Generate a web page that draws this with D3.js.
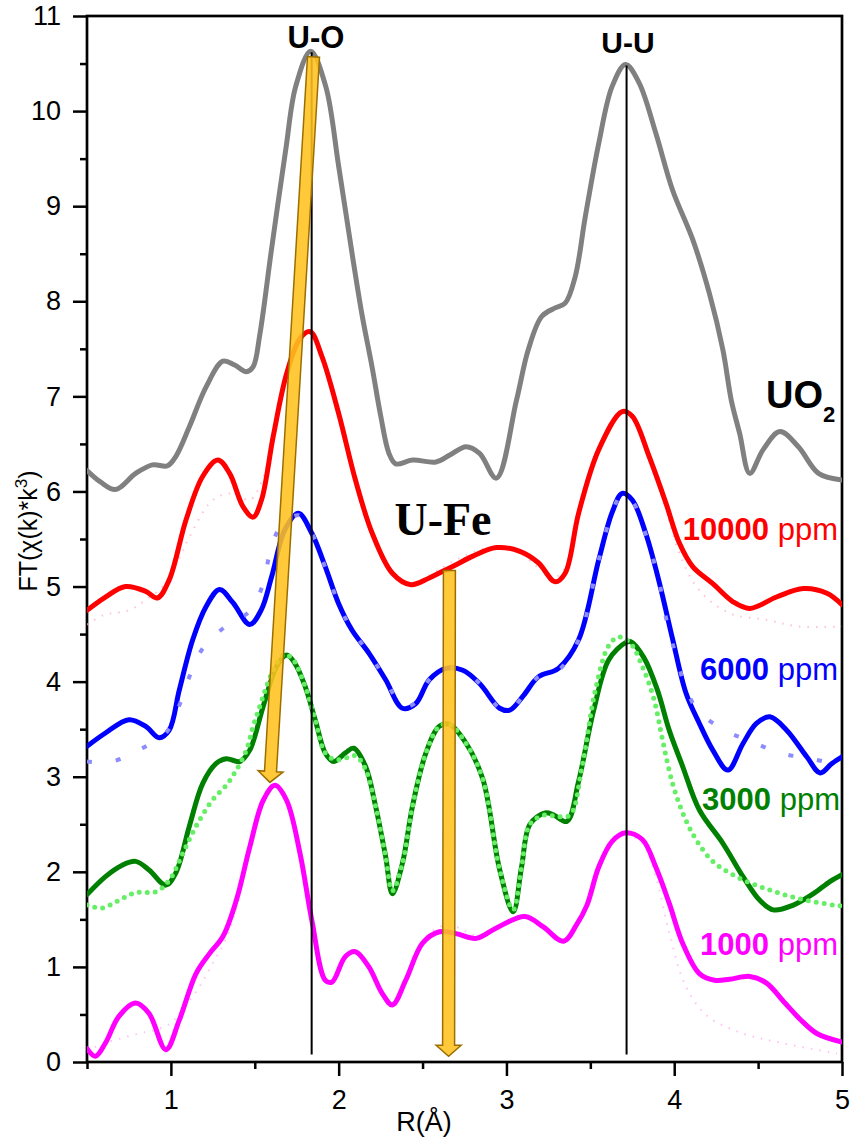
<!DOCTYPE html>
<html>
<head>
<meta charset="utf-8">
<script src="https://cdn.jsdelivr.net/npm/d3@7"></script>
<style>
body { margin: 0; background: #fff; }
svg text { font-family: "Liberation Sans", Arial, sans-serif; }
</style>
</head>
<body>
<div id="chart"></div>
<script>
// [R (Å), FT magnitude]
var uo2 = [[0.5,6.22],[0.58,6.1],[0.67,6.02],[0.79,6.19],[0.89,6.28],[0.98,6.27],[1.03,6.37],[1.11,6.68],[1.21,7.1],[1.31,7.37],[1.38,7.33],[1.45,7.26],[1.49,7.31],[1.53,7.65],[1.6,8.55],[1.685,9.6],[1.744,10.26],[1.833,10.63],[1.923,10.26],[2.0,9.42],[2.08,8.5],[2.14,7.85],[2.2,7.3],[2.25,6.8],[2.3,6.4],[2.34,6.29],[2.44,6.33],[2.58,6.31],[2.66,6.38],[2.76,6.47],[2.84,6.4],[2.94,6.14],[3.06,6.96],[3.13,7.49],[3.21,7.84],[3.29,7.93],[3.35,7.98],[3.41,8.26],[3.47,8.89],[3.55,9.66],[3.63,10.26],[3.71,10.49],[3.79,10.3],[3.89,9.77],[3.99,9.17],[4.11,8.65],[4.21,8.08],[4.29,7.49],[4.34,6.96],[4.39,6.61],[4.45,6.19],[4.53,6.44],[4.63,6.63],[4.74,6.47],[4.86,6.19],[5.0,6.12]];

var ppm10000 = [[0.5,4.75],[0.61,4.89],[0.73,5.0],[0.85,4.95],[0.92,4.88],[0.99,5.07],[1.09,5.7],[1.19,6.16],[1.28,6.33],[1.35,6.19],[1.43,5.84],[1.49,5.73],[1.54,5.91],[1.61,6.58],[1.69,7.24],[1.77,7.61],[1.83,7.68],[1.9,7.42],[2.0,6.82],[2.1,6.12],[2.2,5.56],[2.32,5.14],[2.43,5.02],[2.54,5.09],[2.62,5.16],[2.7,5.23],[2.8,5.32],[2.94,5.41],[3.08,5.37],[3.19,5.25],[3.29,5.05],[3.35,5.14],[3.43,5.77],[3.55,6.44],[3.69,6.84],[3.75,6.79],[3.85,6.37],[3.95,5.88],[4.03,5.46],[4.11,5.21],[4.23,5.03],[4.35,4.84],[4.45,4.77],[4.61,4.89],[4.77,4.98],[4.91,4.93],[5.0,4.81]];
var fit10000 = [[0.5,4.6],[0.6,4.7],[0.75,4.75],[0.85,4.86],[0.95,5.0],[1.05,5.3],[1.11,5.52],[1.25,5.91],[1.37,5.98],[1.47,5.91],[1.54,6.1],[1.61,6.58],[1.69,7.24],[1.77,7.6],[1.83,7.66],[1.9,7.42],[2.0,6.82],[2.1,6.12],[2.2,5.56],[2.32,5.14],[2.43,5.03],[2.54,5.12],[2.62,5.2],[2.7,5.28],[2.8,5.36],[2.94,5.42],[3.08,5.35],[3.19,5.2],[3.29,5.1],[3.35,5.2],[3.43,5.77],[3.55,6.44],[3.69,6.82],[3.75,6.77],[3.85,6.35],[3.95,5.82],[4.03,5.35],[4.15,4.96],[4.33,4.72],[4.55,4.65],[4.74,4.58],[5.0,4.58]];

var ppm6000 = [[0.5,3.32],[0.61,3.46],[0.75,3.6],[0.85,3.53],[0.93,3.41],[0.99,3.49],[1.05,3.91],[1.13,4.44],[1.21,4.79],[1.29,4.97],[1.37,4.83],[1.47,4.6],[1.54,4.76],[1.6,5.1],[1.68,5.6],[1.76,5.77],[1.84,5.56],[1.92,5.21],[2.0,4.82],[2.08,4.54],[2.18,4.3],[2.28,4.02],[2.38,3.72],[2.46,3.77],[2.54,4.02],[2.64,4.14],[2.74,4.12],[2.84,3.98],[2.96,3.72],[3.02,3.7],[3.1,3.85],[3.19,4.05],[3.31,4.14],[3.43,4.44],[3.55,5.28],[3.63,5.78],[3.69,5.98],[3.75,5.91],[3.83,5.56],[3.91,5.05],[3.99,4.45],[4.07,3.88],[4.15,3.56],[4.23,3.28],[4.32,3.07],[4.41,3.35],[4.49,3.56],[4.57,3.63],[4.67,3.49],[4.79,3.21],[4.87,3.04],[4.94,3.14],[5.0,3.21]];
var fit6000 = [[0.5,3.16],[0.65,3.16],[0.83,3.3],[0.97,3.46],[1.05,3.75],[1.11,4.05],[1.19,4.35],[1.34,4.6],[1.47,4.74],[1.55,5.03],[1.59,5.35],[1.65,5.62],[1.76,5.75],[1.84,5.56],[1.92,5.2],[2.0,4.82],[2.08,4.54],[2.18,4.3],[2.28,4.02],[2.38,3.74],[2.46,3.78],[2.54,4.02],[2.64,4.14],[2.74,4.12],[2.84,3.98],[2.96,3.72],[3.02,3.7],[3.1,3.85],[3.19,4.05],[3.31,4.12],[3.43,4.44],[3.55,5.28],[3.63,5.78],[3.69,5.97],[3.75,5.9],[3.83,5.55],[3.91,5.05],[3.96,4.6],[4.01,4.28],[4.06,3.98],[4.14,3.7],[4.3,3.49],[4.46,3.37],[4.63,3.25],[4.81,3.19],[5.0,3.12]];

var ppm3000 = [[0.5,1.76],[0.61,1.95],[0.71,2.07],[0.79,2.11],[0.87,2.02],[0.97,1.86],[1.03,1.99],[1.11,2.48],[1.19,2.93],[1.27,3.14],[1.33,3.19],[1.41,3.16],[1.47,3.28],[1.55,3.74],[1.63,4.16],[1.69,4.28],[1.74,4.19],[1.8,3.95],[1.86,3.6],[1.92,3.25],[1.97,3.16],[2.04,3.25],[2.09,3.3],[2.16,3.11],[2.22,2.69],[2.28,2.16],[2.32,1.77],[2.38,2.09],[2.44,2.69],[2.52,3.25],[2.6,3.53],[2.66,3.55],[2.76,3.35],[2.86,2.97],[2.96,2.02],[3.04,1.58],[3.09,2.05],[3.14,2.5],[3.23,2.62],[3.28,2.6],[3.36,2.53],[3.43,2.95],[3.52,3.7],[3.61,4.23],[3.71,4.41],[3.74,4.42],[3.82,4.25],[3.9,3.91],[3.97,3.49],[4.05,3.11],[4.15,2.65],[4.29,2.3],[4.41,1.95],[4.51,1.7],[4.59,1.6],[4.71,1.65],[4.83,1.77],[4.93,1.9],[5.0,1.97]];
var fit3000 = [[0.5,1.65],[0.59,1.62],[0.69,1.7],[0.79,1.78],[0.91,1.79],[0.99,1.91],[1.07,2.19],[1.15,2.48],[1.25,2.76],[1.33,2.91],[1.39,3.07],[1.45,3.28],[1.49,3.53],[1.53,3.74],[1.57,3.95],[1.61,4.12],[1.67,4.28],[1.72,4.25],[1.8,3.95],[1.86,3.6],[1.92,3.25],[1.98,3.18],[2.05,3.2],[2.1,3.22],[2.16,3.08],[2.22,2.69],[2.28,2.16],[2.32,1.8],[2.38,2.09],[2.44,2.69],[2.52,3.25],[2.6,3.53],[2.66,3.55],[2.76,3.35],[2.86,2.97],[2.96,2.02],[3.04,1.6],[3.09,2.05],[3.14,2.5],[3.23,2.6],[3.3,2.58],[3.38,2.6],[3.45,3.1],[3.53,3.91],[3.61,4.38],[3.67,4.47],[3.74,4.4],[3.81,4.16],[3.88,3.81],[3.93,3.39],[3.99,2.93],[4.06,2.58],[4.13,2.34],[4.23,2.11],[4.37,1.95],[4.55,1.82],[4.74,1.72],[4.95,1.65],[5.0,1.64]];

var ppm1000 = [[0.5,0.14],[0.55,0.06],[0.61,0.2],[0.69,0.48],[0.79,0.62],[0.87,0.51],[0.97,0.13],[1.05,0.44],[1.15,0.93],[1.23,1.14],[1.31,1.32],[1.39,1.7],[1.47,2.26],[1.55,2.75],[1.62,2.91],[1.69,2.75],[1.77,2.19],[1.84,1.49],[1.92,0.86],[1.96,0.84],[2.04,1.11],[2.1,1.16],[2.18,1.0],[2.26,0.72],[2.32,0.6],[2.4,0.86],[2.5,1.25],[2.6,1.37],[2.7,1.35],[2.82,1.3],[2.94,1.41],[3.11,1.53],[3.22,1.42],[3.34,1.27],[3.42,1.45],[3.48,1.65],[3.55,2.05],[3.63,2.32],[3.71,2.41],[3.81,2.34],[3.89,2.05],[3.97,1.67],[4.05,1.25],[4.15,0.93],[4.24,0.86],[4.33,0.87],[4.45,0.9],[4.55,0.83],[4.66,0.62],[4.75,0.45],[4.85,0.3],[5.0,0.21]];
var fit1000 = [[0.5,0.12],[0.61,0.2],[0.81,0.3],[0.91,0.34],[1.0,0.41],[1.08,0.58],[1.17,0.79],[1.25,1.04],[1.33,1.3],[1.4,1.68],[1.47,2.24],[1.55,2.73],[1.62,2.89],[1.69,2.73],[1.77,2.17],[1.84,1.47],[1.92,0.86],[1.97,0.84],[2.04,1.1],[2.1,1.15],[2.18,0.98],[2.26,0.7],[2.33,0.58],[2.4,0.84],[2.5,1.27],[2.6,1.42],[2.7,1.42],[2.82,1.33],[2.94,1.41],[3.11,1.52],[3.22,1.42],[3.34,1.28],[3.42,1.44],[3.48,1.63],[3.55,2.03],[3.63,2.3],[3.71,2.39],[3.81,2.3],[3.89,1.95],[3.97,1.36],[4.07,0.79],[4.2,0.48],[4.41,0.3],[4.64,0.2],[4.97,0.09]];

var xMajor = [1, 2, 3, 4, 5];
var xMinor = [0.5, 1.5, 2.5, 3.5, 4.5];
var yMajor = [0, 1, 2, 3, 4, 5, 6, 7, 8, 9, 10, 11];
var yMinor = [0.5, 1.5, 2.5, 3.5, 4.5, 5.5, 6.5, 7.5, 8.5, 9.5, 10.5];

// peak markers [R, top] and arrows [[R0, y0], [R1, y1]]
var peakLines = [[1.839, 10.62], [3.716, 10.48]];
var arrows = [[[1.85, 10.57], [1.59, 2.94]], [[2.66, 5.17], [2.655, 0.06]]];

var margin = { top: 16, right: 8, bottom: 75, left: 87 };
var width = 850 - margin.left - margin.right;
var height = 1137 - margin.top - margin.bottom;

var root = d3.select("#chart").append("svg")
    .attr("width", 850)
    .attr("height", 1137);
root.append("rect").attr("width", 850).attr("height", 1137).attr("fill", "#fff");

var svg = root.append("g")
    .attr("transform", "translate(" + margin.left + "," + margin.top + ")");

var x = d3.scaleLinear().domain([0.5, 5]).range([0, width]);
var y = d3.scaleLinear().domain([0, 11]).range([height, 0]);

svg.append("clipPath").attr("id", "clip")
    .append("rect").attr("width", width).attr("height", height);

// axes
function styleAxis(g) {
    g.select(".domain").remove();
    g.selectAll(".tick line").attr("stroke", "#000").attr("stroke-width", 2.5);
    g.selectAll(".tick text").attr("fill", "#000").style("font-size", "27px")
        .style("font-family", "'Liberation Sans', Arial, sans-serif");
}

svg.append("g")
    .attr("transform", "translate(0," + height + ")")
    .call(d3.axisBottom(x).tickValues(xMajor).tickSize(14).tickPadding(14).tickFormat(d3.format("d")))
    .call(styleAxis);
svg.append("g")
    .attr("transform", "translate(0," + height + ")")
    .call(d3.axisBottom(x).tickValues(xMinor).tickSize(7).tickFormat(""))
    .call(styleAxis);
svg.append("g")
    .call(d3.axisLeft(y).tickValues(yMajor).tickSize(14).tickPadding(12).tickFormat(d3.format("d")))
    .call(styleAxis);
svg.append("g")
    .call(d3.axisLeft(y).tickValues(yMinor).tickSize(7).tickFormat(""))
    .call(styleAxis);

svg.append("rect")
    .attr("width", width)
    .attr("height", height)
    .attr("fill", "none")
    .attr("stroke", "#000")
    .attr("stroke-width", 2.7);

// axis titles
svg.append("text")
    .attr("x", 424 - margin.left)
    .attr("y", height + 69)
    .attr("text-anchor", "middle")
    .style("font-size", "27px")
    .text("R(Å)");

var yt = svg.append("text")
    .attr("transform", "translate(" + (37 - margin.left) + "," + (531 - margin.top) + ") rotate(-90)")
    .attr("text-anchor", "middle")
    .style("font-size", "25px");
yt.append("tspan").text("FT(χ(k)*k");
yt.append("tspan").attr("dy", -10).style("font-size", "17px").text("3");
yt.append("tspan").attr("dy", 10).text(")");

// curves
var line = d3.line()
    .x(function(d) { return x(d[0]); })
    .y(function(d) { return y(d[1]); })
    .curve(d3.curveCatmullRom.alpha(0.5));

var plot = svg.append("g").attr("clip-path", "url(#clip)");

function drawLine(data, color, w, dash, cap, op) {
    plot.append("path")
        .datum(data)
        .attr("fill", "none")
        .attr("stroke", color)
        .attr("stroke-width", w)
        .attr("stroke-dasharray", dash)
        .attr("stroke-linecap", cap || "butt")
        .attr("stroke-opacity", op || 1)
        .attr("d", line);
}

drawLine(fit10000, "#ffb3c6", 2, "1.5,7", "butt", 0.8);
drawLine(fit1000, "#ffb3f0", 2, "1.5,7", "butt", 0.8);

drawLine(uo2, "#808080", 5, null, "round");
drawLine(ppm10000, "#ff0000", 5, null, "round");
drawLine(ppm6000, "#0000ff", 5, null, "round");
drawLine(ppm3000, "#008000", 5, null, "round");
drawLine(ppm1000, "#ff00ff", 5, null, "round");

drawLine(fit6000, "#8c8cff", 4, "5,24");
drawLine(fit3000, "#66ee66", 5, "0,8", "round");

// peak position lines
plot.selectAll(".peak")
    .data(peakLines)
    .enter()
    .append("line")
    .attr("class", "peak")
    .attr("x1", function(d) { return x(d[0]); })
    .attr("x2", function(d) { return x(d[0]); })
    .attr("y1", y(0.08))
    .attr("y2", function(d) { return y(d[1]); })
    .attr("stroke", "#000")
    .attr("stroke-width", 2);

// arrows
function arrowPath(a) {
    var x0 = x(a[0][0]), y0 = y(a[0][1]), x1 = x(a[1][0]), y1 = y(a[1][1]);
    var len = Math.sqrt((x1 - x0) * (x1 - x0) + (y1 - y0) * (y1 - y0));
    var ux = (x1 - x0) / len, uy = (y1 - y0) / len;
    var nx = -uy, ny = ux;
    var sw = 6, hw = 12.5, hl = 11;
    var bx = x1 - ux * hl, by = y1 - uy * hl;
    var pts = [
        [x0 + nx * sw, y0 + ny * sw],
        [bx + nx * sw, by + ny * sw],
        [bx + nx * hw, by + ny * hw],
        [x1, y1],
        [bx - nx * hw, by - ny * hw],
        [bx - nx * sw, by - ny * sw],
        [x0 - nx * sw, y0 - ny * sw]
    ];
    return "M" + pts.map(function(p) { return p[0].toFixed(1) + "," + p[1].toFixed(1); }).join("L") + "Z";
}

svg.selectAll(".arrow")
    .data(arrows)
    .enter()
    .append("path")
    .attr("class", "arrow")
    .attr("d", arrowPath)
    .attr("fill", "#ffc21f")
    .attr("fill-opacity", 0.88)
    .attr("stroke", "#9c6e00")
    .attr("stroke-width", 1.5);

// labels
function label(px, py, txt, size, anchor, color, weight, family) {
    return svg.append("text")
        .attr("x", px - margin.left)
        .attr("y", py - margin.top)
        .attr("text-anchor", anchor)
        .attr("fill", color)
        .style("font-size", size + "px")
        .style("font-weight", weight)
        .style("font-family", family || "'Liberation Sans', Arial, sans-serif")
        .text(txt);
}

label(316, 48, "U-O", 31, "middle", "#000", "bold");
label(628, 53, "U-U", 30, "middle", "#000", "bold");
label(443, 535, "U-Fe", 46, "middle", "#000", "bold", "'Liberation Serif', 'Times New Roman', serif");

var uo = label(766, 408, "UO", 38, "start", "#000", "bold");
uo.append("tspan").attr("dy", 14).style("font-size", "22px").text("2");

var seriesLabels = [
    { n: "10000", c: "#ff0000", yb: 540, xe: 838 },
    { n: "6000", c: "#0000ff", yb: 680, xe: 838 },
    { n: "3000", c: "#008000", yb: 810, xe: 840 },
    { n: "1000", c: "#ff00ff", yb: 955, xe: 838 }
];
seriesLabels.forEach(function(s) {
    var t = label(s.xe, s.yb, null, 31, "end", s.c, "normal");
    t.append("tspan").style("font-weight", "bold").text(s.n);
    t.append("tspan").text(" ppm");
});
</script>
</body>
</html>
